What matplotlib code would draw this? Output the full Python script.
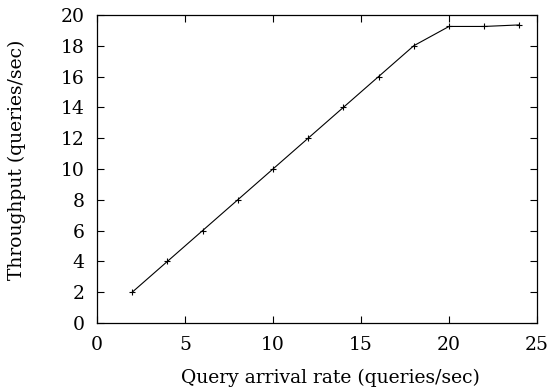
import matplotlib
matplotlib.use("Agg")
import matplotlib.pyplot as plt

rate = [2, 4, 6, 8, 10, 12, 14, 16, 18, 20, 22, 24]
throughput = [2, 4, 6, 8, 10, 12, 14, 16, 18, 19.25, 19.25, 19.35]

plt.rcParams["font.family"] = ["DejaVu Serif"]
plt.rcParams["font.size"] = 13.5

fig = plt.figure(figsize=(5.48, 3.92), dpi=100)
plt.subplots_adjust(left=0.177, right=0.980, bottom=0.176, top=0.962)
ax = fig.add_subplot(1, 1, 1)

ax.plot(rate, throughput, color="black", lw=0.8, marker="+", ms=5, mew=0.8)

ax.set_xlim(0, 25)
ax.set_ylim(0, 20)
ax.set_xticks(range(0, 26, 5))
ax.set_yticks(range(0, 21, 2))
ax.tick_params(direction="in", top=True, right=True, length=5, width=0.8, pad=9)
for sp in ax.spines.values():
	sp.set_linewidth(0.9)

# gnuplot puts the labels a little off-centre
ax.set_xlabel("Query arrival rate (queries/sec)", va="center")
ax.set_ylabel("Throughput (queries/sec)", va="center")
ax.xaxis.set_label_coords(0.53, -0.179)
ax.yaxis.set_label_coords(-0.182, 0.529)

fig.savefig("out.png", dpi=100)
